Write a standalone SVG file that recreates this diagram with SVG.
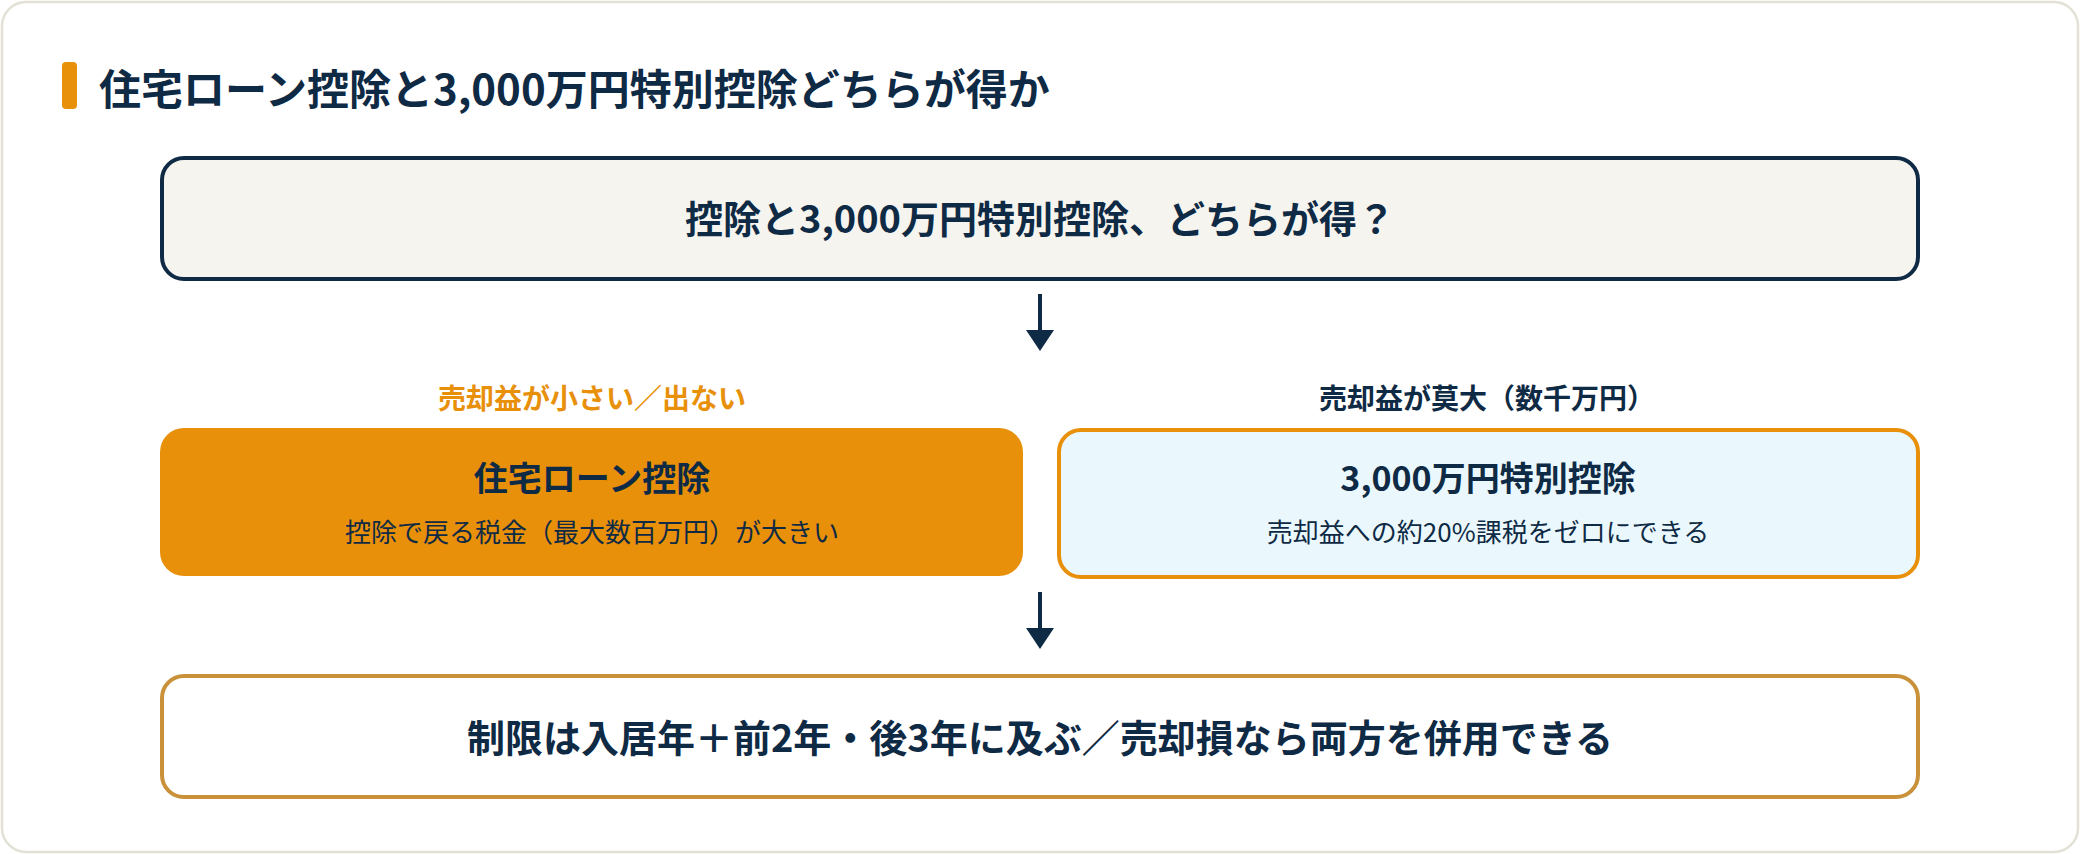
<svg xmlns="http://www.w3.org/2000/svg" width="2080" height="854" viewBox="0 0 2080 854">
  <defs>
    <style>
      text { font-family: "Noto Sans CJK JP", "Noto Sans", sans-serif; fill: #0f2a44; }
      .b { font-weight: 700; }
      .mid { text-anchor: middle; }
      .line { stroke: #0f2a44; stroke-width: 4; fill: none; }
      .head { fill: #0f2a44; }
    </style>
  </defs>
  <rect x="2" y="2" width="2076" height="850" rx="24" fill="#ffffff" stroke="#e3e1d6" stroke-width="2.5"/>
  <g id="title">
    <rect x="62" y="62" width="15" height="47" rx="4" fill="#e8900a"/>
    <text x="99" y="105" class="b" font-size="42">住宅ローン控除と3,000万円特別控除どちらが得か</text>
  </g>
  <g id="connectors">
    <line class="line" x1="1040" y1="294" x2="1040" y2="332"/>
    <polygon class="head" points="1026,330 1054,330 1040,351"/>
    <line class="line" x1="1040" y1="592" x2="1040" y2="630"/>
    <polygon class="head" points="1026,628 1054,628 1040,649"/>
  </g>
  <g id="question">
    <rect x="162" y="158" width="1756" height="121" rx="22" fill="#f5f4ef" stroke="#0f2a44" stroke-width="4"/>
    <text x="1040" y="233" class="b mid" font-size="38">控除と3,000万円特別控除、どちらが得？</text>
  </g>
  <g id="label-left">
    <text x="592" y="409" class="b mid" font-size="28" style="fill:#e8900a">売却益が小さい／出ない</text>
  </g>
  <g id="label-right">
    <text x="1487" y="409" class="b mid" font-size="28">売却益が莫大（数千万円）</text>
  </g>
  <g id="loan">
    <rect x="160" y="428" width="863" height="148" rx="24" fill="#e8900a"/>
    <text x="592" y="491" class="b mid" font-size="34">住宅ローン控除</text>
    <text x="592" y="542" class="mid" font-size="26">控除で戻る税金（最大数百万円）が大きい</text>
  </g>
  <g id="special">
    <rect x="1059" y="430" width="859" height="147" rx="22" fill="#eaf8fd" stroke="#e8900a" stroke-width="4"/>
    <text x="1488" y="491" class="b mid" font-size="34">3,000万円特別控除</text>
    <text x="1488" y="542" class="mid" font-size="26">売却益への約20%課税をゼロにできる</text>
  </g>
  <g id="note">
    <rect x="162" y="676" width="1756" height="121" rx="22" fill="#ffffff" stroke="#c8913a" stroke-width="4"/>
    <text x="1040" y="752" class="b mid" font-size="38">制限は入居年＋前2年・後3年に及ぶ／売却損なら両方を併用できる</text>
  </g>
</svg>
